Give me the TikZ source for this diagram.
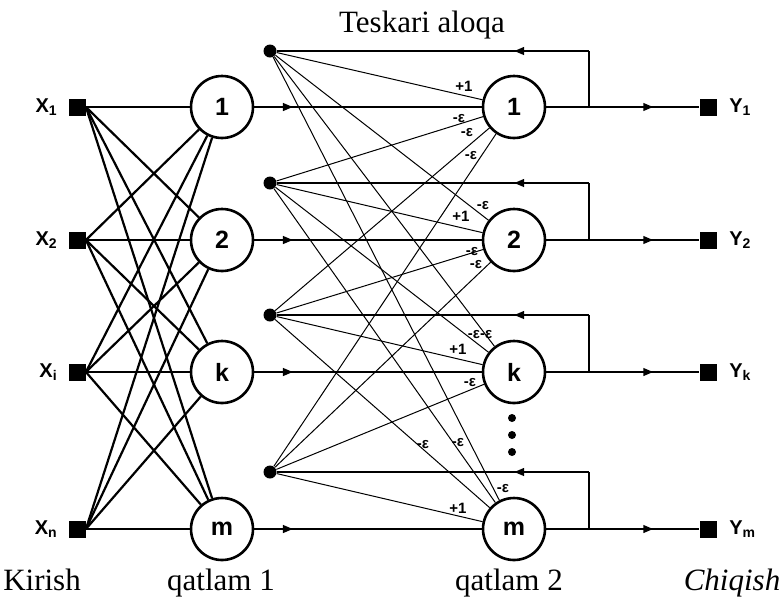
\documentclass[tikz,border=0pt]{standalone}
\usepackage{fontspec}
\setmainfont{Liberation Serif}
\setsansfont{Liberation Sans}
\usetikzlibrary{arrows.meta,decorations.markings,positioning}

\tikzset{
  inp/.style={fill=black,minimum size=8.5pt,inner sep=0pt},
  neuron/.style={circle,draw,line width=1.3pt,minimum size=31pt,inner sep=0pt,
    font=\sffamily\bfseries\fontsize{12.5}{13}\selectfont},
  fbdot/.style={circle,fill=black,minimum size=6.5pt,inner sep=0pt},
  vdot/.style={circle,fill=black,minimum size=4pt,inner sep=0pt},
  sym/.style={font=\sffamily\bfseries\fontsize{10}{10}\selectfont,inner sep=1pt},
  wlbl/.style={font=\sffamily\bfseries\fontsize{7.5}{8}\selectfont,inner sep=0pt},
  caption/.style={font=\fontsize{15.5}{16}\selectfont,inner sep=0pt,anchor=base},
  thickline/.style={line width=1.1pt},
  thinline/.style={line width=0.5pt},
  midarrow/.style={postaction={decorate},decoration={markings,
    mark=at position #1 with {\arrow{Triangle[length=5pt,width=3.8pt]}}}},
}

\begin{document}
\begin{tikzpicture}[x=0.5pt,y=-0.5pt]
\useasboundingbox (0,0) rectangle (780,596);

% input, layer 1, layer 2, output
\foreach \n/\i/\o/\yy/\dy in {1/1/1/107/51, 2/2/2/240/183, k/i/k/372/315, m/n/m/529/472} {
  \node[inp] (x\n) at (77,\yy) {};
  \node[sym,left=4pt of x\n] (lx\n) {X\textsubscript{\i}};
  \node[neuron] (a\n) at (222,\yy) {\n};
  \node[neuron] (b\n) at (514,\yy) {\n};
  \node[inp] (y\n) at (708,\yy) {};
  \node[sym,right=5pt of y\n] (ly\n) {Y\textsubscript{\o}};
  \node[fbdot] (d\n) at (270,\dy) {};
  \coordinate (t\n) at (589,\yy);
  \coordinate (u\n) at (589,\dy);
}

% input -> layer 1
\foreach \s in {1,2,k,m}
  \foreach \t in {1,2,k,m}
    \draw[thickline] (x\s.east) -- (a\t);

% layer 1 -> layer 2 -> output, feedback
\foreach \n in {1,2,k,m} {
  \draw[thickline,midarrow=0.17] (a\n) -- (b\n);
  \draw[thickline,midarrow=0.7] (b\n) -- (y\n);
  \draw[thickline] (t\n) -- (u\n);
  \draw[thickline,midarrow=0.24] (u\n) -- (d\n);
}

% feedback dots -> layer 2
\foreach \s in {1,2,k,m}
  \foreach \t in {1,2,k,m}
    \draw[thinline] (d\s) -- (b\t);

% weights
\node[wlbl] (w11) at (464,86) {+1};
\node[wlbl] (w21) at (459,119) {-ε};
\node[wlbl] (w31) at (467,133) {-ε};
\node[wlbl] (w41) at (471,156) {-ε};
\node[wlbl] (w12) at (483,206) {-ε};
\node[wlbl] (w22) at (461,216) {+1};
\node[wlbl] (w32) at (472,252) {-ε};
\node[wlbl] (w42) at (476,265) {-ε};
\node[wlbl] (w1k) at (480,335) {-ε-ε};
\node[wlbl] (w3k) at (458,349) {+1};
\node[wlbl] (w4k) at (470,383) {-ε};
\node[wlbl] (w1m) at (423,445) {-ε};
\node[wlbl] (w2m) at (458,443) {-ε};
\node[wlbl] (w3m) at (503,489) {-ε};
\node[wlbl] (w4m) at (458,508) {+1};

% dots between k and m
\node[vdot] (v1) at (512,418) {};
\node[vdot] (v2) at (512,435) {};
\node[vdot] (v3) at (512,452) {};

% captions
\node[caption] (teskari) at (422,32) {Teskari aloqa};
\node[caption] (kirish) at (42,590) {Kirish};
\node[caption] (qatlam1) at (221,590) {qatlam 1};
\node[caption] (qatlam2) at (509,590) {qatlam 2};
\node[caption] (chiqish) at (732,590) {\itshape Chiqish};
\end{tikzpicture}
\end{document}
